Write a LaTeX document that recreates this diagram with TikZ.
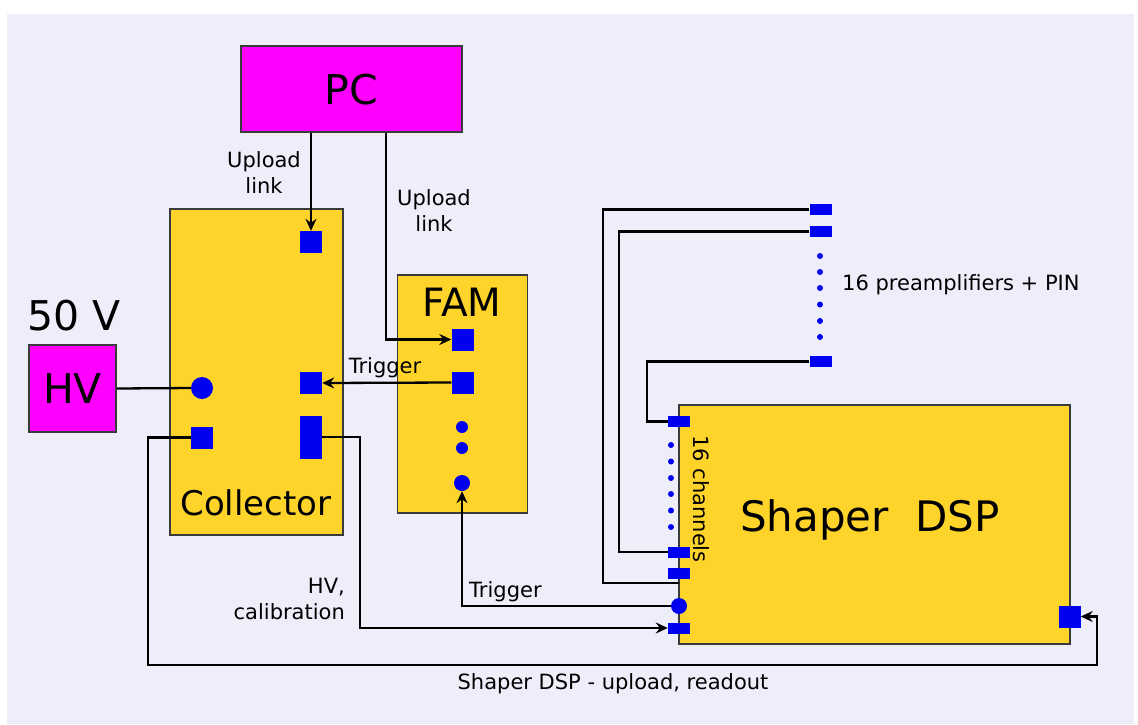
\documentclass[tikz,border=0pt]{standalone}
\usepackage{fontspec}
\setmainfont{DejaVu Sans}
\usetikzlibrary{arrows.meta}
\definecolor{bgc}{HTML}{EEEEFB}
\definecolor{boxy}{HTML}{FFD42A}
\definecolor{mag}{HTML}{FF00FF}
\definecolor{con}{HTML}{0000F0}
\definecolor{edge}{HTML}{3A3A3A}
\begin{document}
\begin{tikzpicture}[x=1pt,y=-1pt,
  yellowbox/.style={draw=edge,line width=1.6pt,fill=boxy,inner sep=0pt},
  magbox/.style={draw=edge,line width=1.6pt,fill=mag,inner sep=0pt},
  sq/.style={fill=con,inner sep=0pt,minimum width=22pt,minimum height=22pt},
  flat/.style={fill=con,inner sep=0pt,minimum width=22pt,minimum height=11pt},
  dotc/.style={circle,fill=con,inner sep=0pt},
  wire/.style={line width=2.3pt,black},
  arr/.style={wire,-{Stealth[length=12pt,width=11pt,inset=4pt]}},
  lbl/.style={font=\fontsize{21}{26}\selectfont,inner sep=0pt},
  big/.style={font=\fontsize{41}{48}\selectfont,inner sep=0pt}]
\useasboundingbox (0,0) rectangle (1138,724);
\fill[white] (0,0) rectangle (1138,724);
\fill[bgc] (7,14) rectangle (1134,724);

% main boxes
\node[magbox,minimum width=221pt,minimum height=86pt] (pc) at (351.5,89) {};
\node[big] (pctext) at (351.5,90) {PC};
\node[magbox,minimum width=87pt,minimum height=87pt] (hv) at (72.5,388.5) {};
\node[big] (hvtext) at (72.5,389) {HV};
\node[big] (fifty) at (74,316) {50 V};
\node[yellowbox,minimum width=173pt,minimum height=326pt] (coll) at (256.5,372) {};
\node[inner sep=0pt,font=\fontsize{34}{40}\selectfont] (colltext) at (256,503) {Collector};
\node[yellowbox,minimum width=130pt,minimum height=238pt] (fam) at (462.5,394) {};
\node[inner sep=0pt,font=\fontsize{39}{46}\selectfont] (famtext) at (462,302) {FAM};
\node[yellowbox,minimum width=391pt,minimum height=239pt] (shaper) at (874.5,524.5) {};
\node[inner sep=0pt,font=\fontsize{42}{48}\selectfont] (shtext) at (870,520) {Shaper\ \ DSP};
\node[lbl,rotate=-90] (chan) at (701,499) {16 channels};

% connector points
\coordinate (j1) at (386,0);
\coordinate (bl) at (148,665);
\coordinate (br) at (1097,665);
\coordinate (hc) at (360,628);
\coordinate (w1) at (603,583);
\coordinate (se) at (679,583);
\coordinate (w2) at (619,552);
\coordinate (w3) at (647,421.5);

% blue connectors
\node[sq] (csq1) at (311,242) {};
\node[dotc,minimum size=22pt] (ccirc) at (202,388) {};
\node[sq] (csq2) at (202,437.5) {};
\node[sq] (ctrig) at (311,383) {};
\node[fill=con,inner sep=0pt,minimum width=22pt,minimum height=43pt] (ctall) at (311,437) {};
\node[sq] (fsq1) at (462.5,339.5) {};
\node[sq] (fsq2) at (462.5,382.5) {};
\node[dotc,minimum size=12pt] (fd1) at (462,427) {};
\node[dotc,minimum size=12pt] (fd2) at (462,448) {};
\node[dotc,minimum size=16pt] (fcirc) at (462,483) {};
\node[sq] (ssq) at (1069.5,616.5) {};
\node[flat] (s1) at (679,421.5) {};
\node[flat] (s2) at (679,552) {};
\node[flat] (s3) at (679,573) {};
\node[dotc,minimum size=16pt] (scirc) at (679,606) {};
\node[flat] (s4) at (679,628) {};
\foreach \yy [count=\i] in {445,461.5,478,494,510.5,527}
  \node[dotc,minimum size=6pt] (sd\i) at (671,\yy) {};
\node[flat] (p1) at (820.5,209.5) {};
\node[flat] (p2) at (820.5,231.5) {};
\node[flat] (p3) at (820.5,361.5) {};
\foreach \yy [count=\i] in {256,272,288,304.5,321,337}
  \node[dotc,minimum size=6pt] (pd\i) at (820,\yy) {};

% wires
\draw[arr] (csq1 |- pc.south) -- (csq1.north);
\draw[arr] (pc.south -| j1) |- (fsq1.west);
\draw[arr] (fsq2.west) -- (ctrig.east);
\draw[wire] (hv.east) -- (ccirc.west);
\draw[arr] (csq2.west) -| (bl) -- (br) |- (ssq.east);
\draw[arr] (ctall.east) -| (hc) -- (s4.west);
\draw[arr] (scirc.west) -| (fcirc.south);
\draw[wire] (p1.west) -| (w1) -- (se);
\draw[wire] (p2.west) -| (w2) -- (s2.west);
\draw[wire] (p3.west) -| (w3) -- (s1.west);

% labels
\node[lbl,align=center] (ul1) at (264,173) {Upload\\link};
\node[lbl,align=center] (ul2) at (434,211) {Upload\\link};
\node[lbl] (trig1) at (385,368) {Trigger};
\node[lbl,anchor=west] (trig2) at (469,592) {Trigger};
\node[lbl,align=right,anchor=east] (hvcal) at (345,599) {HV,\\calibration};
\node[lbl,anchor=west] (pre) at (842,285) {16 preamplifiers + PIN};
\node[lbl] (bottom) at (613,684) {Shaper DSP - upload, readout};
\end{tikzpicture}
\end{document}
